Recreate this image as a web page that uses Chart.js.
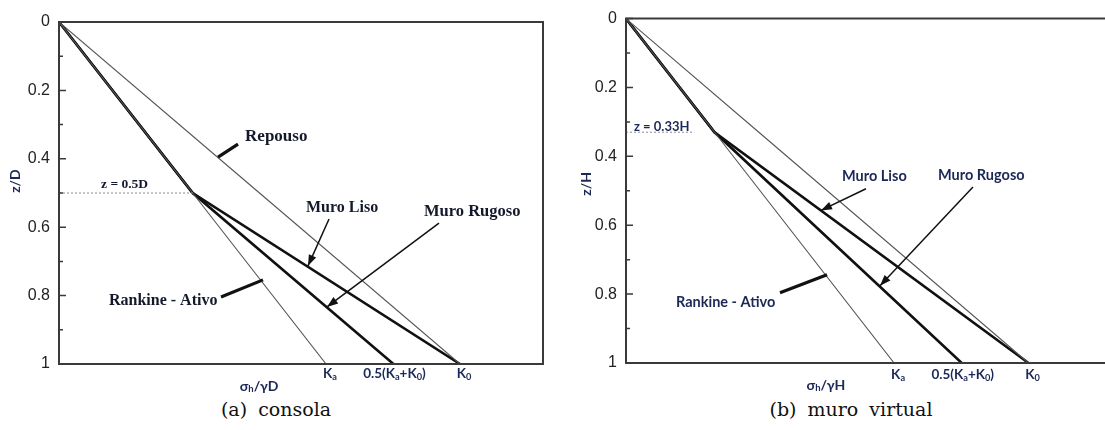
<!DOCTYPE html>
<html lang="pt">
<head>
<meta charset="UTF-8">
<title>Empuxo - consola e muro virtual</title>
<script src="https://cdn.jsdelivr.net/npm/chart.js"></script>
<style>
  body { margin:0; background:#fff; width:1105px; height:430px; position:relative; overflow:hidden; }
  canvas { position:absolute; top:0; }
  #chartA { left:0; }
  #chartB { left:560px; }
  .caption { position:absolute; top:398px; width:300px; text-align:center;
             font-family:"DejaVu Serif", serif; font-size:19px; word-spacing:5px; color:#111; }
</style>
</head>
<body>
<canvas id="chartA" width="560" height="395"></canvas>
<canvas id="chartB" width="545" height="395"></canvas>
<div class="caption" style="left:126px">(a) consola</div>
<div class="caption" style="left:701px">(b) muro virtual</div>
<script>
// coeficientes de empuxo no eixo horizontal
const Ka = 0.333;
const K0 = 0.5;
const Km = 0.417; // 0.5(Ka+K0)

const xTickValues = [Ka, Km, K0];
const xTickLabels = ['K_a', '0.5(K_a+K_0)', 'K_0'];
const yMajorTicks = [0, 0.2, 0.4, 0.6, 0.8, 1];
const yMinorTicks = [0.1, 0.3, 0.5, 0.7, 0.9];

// (a) consola - transicao em z = 0.5D
const depthA = [0, 0.5, 1];
const repousoA = [0, 0.25, 0.5];
const rankineA = [0, 0.1667, 0.333];
const lisoA = [0, 0.1667, 0.5];
const rugosoA = [0, 0.1667, 0.417];
const guideDepthA = 0.5;
const guideA = [0, 0.1667];

// (b) muro virtual - transicao em z = 0.33H
const depthB = [0, 0.33, 1];
const repousoB = [0, 0.165, 0.5];
const rankineB = [0, 0.11, 0.333];
const lisoB = [0, 0.11, 0.5];
const rugosoB = [0, 0.11, 0.417];
const guideDepthB = 0.33;
const guideB = [0, 0.085];

const SANS = 'Lato, "Open Sans", sans-serif';
const NAVY = '#1c2856';

function pts(xs, zs) { return xs.map((v, i) => ({ x: v, y: zs[i] })); }

function parts(label) {
  return label.split(/(_.)/).filter(s => s).map(s => s[0] === '_' ? [s.slice(1), true] : [s, false]);
}

function drawRich(ctx, label, cx, cy, size) {
  const ps = parts(label);
  const fontOf = sub => `bold ${sub ? size * 0.68 : size}px ${SANS}`;
  let w = 0;
  ps.forEach(([t, sub]) => { ctx.font = fontOf(sub); w += ctx.measureText(t).width; });
  let xx = cx - w / 2;
  ctx.textAlign = 'left';
  ctx.textBaseline = 'middle';
  ps.forEach(([t, sub]) => {
    ctx.font = fontOf(sub);
    ctx.fillText(t, xx, sub ? cy + size * 0.22 : cy);
    xx += ctx.measureText(t).width;
  });
}

const decor = {
  id: 'decor',
  afterDatasetsDraw(chart, args, o) {
    const { ctx, chartArea: a, scales: { x, y } } = chart;
    ctx.save();
    // moldura
    ctx.strokeStyle = '#3a3a3a';
    ctx.lineWidth = 2;
    ctx.beginPath();
    if (o.closed) {
      ctx.rect(a.left, a.top, a.right - a.left, a.bottom - a.top);
    } else {
      ctx.moveTo(a.right, a.top); ctx.lineTo(a.left, a.top);
      ctx.lineTo(a.left, a.bottom); ctx.lineTo(a.right, a.bottom);
    }
    ctx.stroke();
    // marcas para dentro
    ctx.lineWidth = 1.5;
    ctx.beginPath();
    yMajorTicks.forEach(v => { const p = y.getPixelForValue(v); ctx.moveTo(a.left, p); ctx.lineTo(a.left + 7, p); });
    yMinorTicks.forEach(v => { const p = y.getPixelForValue(v); ctx.moveTo(a.left, p); ctx.lineTo(a.left + 4, p); });
    ctx.stroke();

    // setas e tracos
    o.arrows.forEach(ar => {
      const x1 = x.getPixelForValue(ar.from[0]), y1 = y.getPixelForValue(ar.from[1]);
      const x2 = x.getPixelForValue(ar.to[0]), y2 = y.getPixelForValue(ar.to[1]);
      ctx.strokeStyle = '#111';
      ctx.fillStyle = '#111';
      ctx.lineWidth = ar.width;
      ctx.beginPath(); ctx.moveTo(x1, y1); ctx.lineTo(x2, y2); ctx.stroke();
      if (ar.head) {
        const ang = Math.atan2(y2 - y1, x2 - x1);
        ctx.beginPath();
        ctx.moveTo(x2, y2);
        ctx.lineTo(x2 - 11 * Math.cos(ang) + 4 * Math.sin(ang), y2 - 11 * Math.sin(ang) - 4 * Math.cos(ang));
        ctx.lineTo(x2 - 11 * Math.cos(ang) - 4 * Math.sin(ang), y2 - 11 * Math.sin(ang) + 4 * Math.cos(ang));
        ctx.closePath();
        ctx.fill();
      }
    });

    // textos
    o.texts.forEach(t => {
      ctx.font = t.font;
      ctx.fillStyle = t.color;
      ctx.textAlign = 'left';
      ctx.textBaseline = 'middle';
      ctx.fillText(t.text, x.getPixelForValue(t.x), y.getPixelForValue(t.z));
    });

    // rotulos do eixo horizontal
    ctx.fillStyle = NAVY;
    xTickValues.forEach((v, i) => {
      const shift = i === 1 ? 1 : 4;
      drawRich(ctx, xTickLabels[i], x.getPixelForValue(v) + shift, a.bottom + o.tickGap, 13.5);
    });
    drawRich(ctx, o.xTitle, x.getPixelForValue(o.xTitleAt), a.bottom + o.titleGap, 14);

    // titulo do eixo vertical
    ctx.translate(a.left + o.yTitleDx, y.getPixelForValue(o.yTitleAt));
    ctx.rotate(-Math.PI / 2);
    ctx.font = `bold 14px ${SANS}`;
    ctx.textAlign = 'center';
    ctx.textBaseline = 'middle';
    ctx.fillText(o.yTitle, 0, 0);
    ctx.restore();
  }
};

function makeChart(id, d) {
  const thin = { borderColor: '#555', borderWidth: 1.1 };
  const thick = { borderColor: '#111', borderWidth: 2.6 };
  return new Chart(document.getElementById(id), {
    type: 'scatter',
    data: {
      datasets: [
        { label: 'z', data: pts(d.guide, [d.guideDepth, d.guideDepth]), borderColor: '#a0a0a0', borderWidth: 1.2, borderDash: [2, 2] },
        { label: 'Repouso', data: pts(d.repouso, d.depth), ...thin },
        { label: 'Rankine - Ativo', data: pts(d.rankine, d.depth), ...thin },
        { label: 'Muro Rugoso', data: pts(d.rugoso, d.depth), ...thick },
        { label: 'Muro Liso', data: pts(d.liso, d.depth), ...thick }
      ].map(ds => ({ ...ds, showLine: true, pointRadius: 0 }))
    },
    options: {
      responsive: false,
      animation: false,
      layout: { padding: d.padding },
      plugins: { legend: { display: false }, tooltip: { enabled: false }, decor: d.decor },
      scales: {
        x: { type: 'linear', display: false, min: 0, max: d.xMax },
        y: {
          type: 'linear', reverse: true, min: 0, max: 1,
          afterFit: s => { s.width = d.yWidth; },
          afterBuildTicks: s => { s.ticks = yMajorTicks.map(v => ({ value: v })); },
          grid: { display: false, drawTicks: false },
          border: { display: false },
          ticks: { padding: 9, color: '#222', font: { family: '"Liberation Sans", Arial, sans-serif', size: 16 }, callback: v => String(v) }
        }
      }
    },
    plugins: [decor]
  });
}

const serifBold = size => `bold ${size}px "Liberation Serif", "Times New Roman", serif`;
const sansBold = size => `bold ${size}px ${SANS}`;

makeChart('chartA', {
  depth: depthA, repouso: repousoA, rankine: rankineA, liso: lisoA, rugoso: rugosoA,
  guide: guideA, guideDepth: guideDepthA,
  xMax: 0.6035, yWidth: 59,
  padding: { top: 22, right: 17, bottom: 31, left: 0 },
  decor: {
    closed: true, tickGap: 10, titleGap: 22,
    xTitle: 'σ_h/γD', xTitleAt: 0.2494,
    yTitle: 'z/D', yTitleDx: -44, yTitleAt: 0.465,
    texts: [
      { text: 'Repouso', x: 0.232, z: 0.336, font: serifBold(17), color: '#14182b' },
      { text: 'z = 0.5D', x: 0.0524, z: 0.474, font: serifBold(13.5), color: '#14182b' },
      { text: 'Muro Liso', x: 0.308, z: 0.544, font: serifBold(16), color: '#14182b' },
      { text: 'Muro Rugoso', x: 0.4551, z: 0.556, font: serifBold(16.5), color: '#14182b' },
      { text: 'Rankine - Ativo', x: 0.0623, z: 0.816, font: serifBold(16), color: '#14182b' }
    ],
    arrows: [
      { from: [0.2232, 0.357], to: [0.1983, 0.395], width: 3.2, head: false },
      { from: [0.3367, 0.576], to: [0.3105, 0.713], width: 1.5, head: true },
      { from: [0.4738, 0.588], to: [0.3342, 0.833], width: 1.5, head: true },
      { from: [0.2020, 0.804], to: [0.2544, 0.754], width: 3.2, head: false }
    ]
  }
});

makeChart('chartB', {
  depth: depthB, repouso: repousoB, rankine: rankineB, liso: lisoB, rugoso: rugosoB,
  guide: guideB, guideDepth: guideDepthB,
  xMax: 0.595, yWidth: 66,
  padding: { top: 15, right: 0, bottom: 32, left: 0 },
  decor: {
    closed: false, tickGap: 12, titleGap: 22,
    xTitle: 'σ_h/γH', xTitleAt: 0.2484,
    yTitle: 'z/H', yTitleDx: -40, yTitleAt: 0.48,
    texts: [
      { text: 'z = 0.33H', x: 0.0099, z: 0.313, font: sansBold(13), color: NAVY },
      { text: 'Muro Liso', x: 0.2683, z: 0.457, font: sansBold(14.5), color: NAVY },
      { text: 'Muro Rugoso', x: 0.3876, z: 0.454, font: sansBold(14.5), color: NAVY },
      { text: 'Rankine - Ativo', x: 0.0621, z: 0.825, font: sansBold(14.5), color: NAVY }
    ],
    arrows: [
      { from: [0.2981, 0.494], to: [0.2422, 0.557], width: 1.5, head: true },
      { from: [0.4310, 0.489], to: [0.3155, 0.776], width: 1.5, head: true },
      { from: [0.1913, 0.796], to: [0.2497, 0.744], width: 3.2, head: false }
    ]
  }
});
</script>
</body>
</html>
